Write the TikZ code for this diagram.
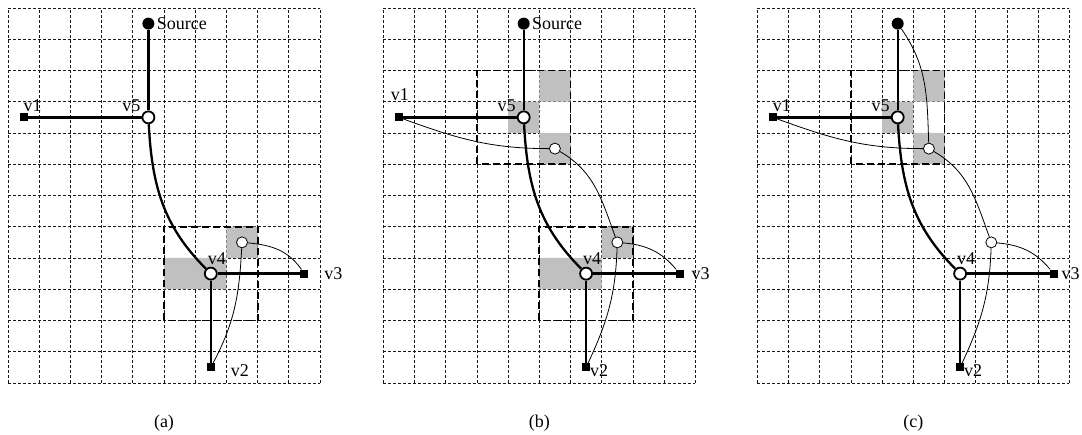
\documentclass[tikz,border=0pt]{standalone}
\usepackage{fontspec}
\setmainfont{Liberation Serif}
\pgfdeclarelayer{background}
\pgfsetlayers{background,main}
\definecolor{cellgray}{RGB}{192,192,192}
\tikzset{
  gridline/.style={line width=0.7pt, dash pattern=on 3pt off 2pt, black!90},
  window/.style={line width=1.8pt, dash pattern=on 7pt off 4pt},
  cellfill/.style={fill=cellgray},
  tree/.style={line width=2.3pt},
  route/.style={line width=0.8pt},
  steiner/.style={circle, draw, line width=1.8pt, fill=white, minimum size=12pt, inner sep=0pt},
  cand/.style={circle, draw, line width=0.8pt, fill=white, minimum size=11pt, inner sep=0pt},
  src/.style={circle, fill=black, minimum size=12pt, inner sep=0pt},
  term/.style={rectangle, fill=black, minimum size=8pt, inner sep=0pt},
  lbl/.style={font=\fontsize{18}{20}\selectfont, inner sep=0pt},
  panel/.style={x=31.2pt, y=31.25pt}
}
\begin{document}
\begin{tikzpicture}
\useasboundingbox (0,0) rectangle (1082pt,435pt);
% ---------------- panel (a)
\begin{scope}[xshift=8pt, yshift=52pt, panel]
 \begin{pgfonlayer}{background}
  \foreach \i in {0,...,10} \draw[gridline] (\i,0) -- (\i,12);
  \foreach \j in {0,...,12} \draw[gridline] (0,\j) -- (10,\j);
  \fill[cellfill] (7,4) rectangle (8,5) (5,3) rectangle (7,4);
  \draw[window] (5,2) rectangle (8,5);
 \end{pgfonlayer}
 \node[src] (aS) at (4.5,11.5) {};
 \node[steiner] (av5) at (4.5,8.5) {};
 \node[steiner] (av4) at (6.5,3.5) {};
 \node[term] (av1) at (0.5,8.5) {};
 \node[term] (av2) at (6.5,0.5) {};
 \node[term] (av3) at (9.5,3.5) {};
 \node[cand] (ac2) at (7.5,4.5) {};
 \begin{pgfonlayer}{background}
  \draw[tree] (aS) -- (av5);
  \draw[tree] (av1) -- (av5);
  \draw[tree] (av5) to[out=-87, in=135] (av4);
  \draw[tree] (av4) -- (av3);
  \draw[tree] (av4) -- (av2);
  \draw[route] (ac2) to[out=-5, in=125] (av3);
  \draw[route] (ac2) to[out=-93, in=62] (av2);
 \end{pgfonlayer}
 \node[lbl, anchor=west] (aSl) at ([xshift=2pt]aS.east) {Source};
 \node[lbl] (av1l) at ([shift={(9pt,12pt)}]av1) {v1};
 \node[lbl] (av5l) at ([shift={(-17pt,12pt)}]av5) {v5};
 \node[lbl] (av4l) at ([shift={(6pt,15pt)}]av4) {v4};
 \node[lbl] (av2l) at ([shift={(29pt,-3pt)}]av2) {v2};
 \node[lbl] (av3l) at ([shift={(29pt,0pt)}]av3) {v3};
\end{scope}
% ---------------- panel (b)
\begin{scope}[xshift=383.3pt, yshift=52pt, panel]
 \begin{pgfonlayer}{background}
  \foreach \i in {0,...,10} \draw[gridline] (\i,0) -- (\i,12);
  \foreach \j in {0,...,12} \draw[gridline] (0,\j) -- (10,\j);
  \fill[cellfill] (7,4) rectangle (8,5) (5,3) rectangle (7,4);
  \fill[cellfill] (5,9) rectangle (6,10) (4,8) rectangle (5,9) (5,7) rectangle (6,8);
  \draw[window] (5,2) rectangle (8,5);
  \draw[window] (3,7) rectangle (6,10);
 \end{pgfonlayer}
 \node[src] (bS) at (4.5,11.5) {};
 \node[steiner] (bv5) at (4.5,8.5) {};
 \node[steiner] (bv4) at (6.5,3.5) {};
 \node[term] (bv1) at (0.5,8.5) {};
 \node[term] (bv2) at (6.5,0.5) {};
 \node[term] (bv3) at (9.5,3.5) {};
 \node[cand] (bc1) at (5.5,7.5) {};
 \node[cand] (bc2) at (7.5,4.5) {};
 \begin{pgfonlayer}{background}
  \draw[tree] (bS) -- (bv5);
  \draw[tree] (bv1) -- (bv5);
  \draw[tree] (bv5) to[out=-87, in=135] (bv4);
  \draw[tree] (bv4) -- (bv3);
  \draw[tree] (bv4) -- (bv2);
  \draw[route] (bv1) to[out=-20, in=180] (bc1);
  \draw[route] (bc1) to[out=-30, in=110] (bc2);
  \draw[route] (bc2) to[out=-5, in=130] (bv3);
  \draw[route] (bc2) to[out=-92, in=65] (bv2);
 \end{pgfonlayer}
 \node[lbl, anchor=west] (bSl) at ([xshift=2pt]bS.east) {Source};
 \node[lbl] (bv1l) at ([shift={(1pt,23pt)}]bv1) {v1};
 \node[lbl] (bv5l) at ([shift={(-17pt,12pt)}]bv5) {v5};
 \node[lbl] (bv4l) at ([shift={(6pt,15pt)}]bv4) {v4};
 \node[lbl] (bv2l) at ([shift={(13pt,-3pt)}]bv2) {v2};
 \node[lbl] (bv3l) at ([shift={(21pt,0pt)}]bv3) {v3};
\end{scope}
% ---------------- panel (c)
\begin{scope}[xshift=757.3pt, yshift=52pt, panel]
 \begin{pgfonlayer}{background}
  \foreach \i in {0,...,10} \draw[gridline] (\i,0) -- (\i,12);
  \foreach \j in {0,...,12} \draw[gridline] (0,\j) -- (10,\j);
  \fill[cellfill] (5,9) rectangle (6,10) (4,8) rectangle (5,9) (5,7) rectangle (6,8);
  \draw[window] (3,7) rectangle (6,10);
 \end{pgfonlayer}
 \node[src] (cS) at (4.5,11.5) {};
 \node[steiner] (cv5) at (4.5,8.5) {};
 \node[steiner] (cv4) at (6.5,3.5) {};
 \node[term] (cv1) at (0.5,8.5) {};
 \node[term] (cv2) at (6.5,0.5) {};
 \node[term] (cv3) at (9.5,3.5) {};
 \node[cand] (cc1) at (5.5,7.5) {};
 \node[cand] (cc2) at (7.5,4.5) {};
 \begin{pgfonlayer}{background}
  \draw[tree] (cS) -- (cv5);
  \draw[tree] (cv1) -- (cv5);
  \draw[tree] (cv5) to[out=-87, in=135] (cv4);
  \draw[tree] (cv4) -- (cv3);
  \draw[tree] (cv4) -- (cv2);
  \draw[route] (cS) to[out=-55, in=92] (cc1);
  \draw[route] (cv1) to[out=-20, in=180] (cc1);
  \draw[route] (cc1) to[out=-30, in=110] (cc2);
  \draw[route] (cc2) to[out=-5, in=130] (cv3);
  \draw[route] (cc2) to[out=-92, in=65] (cv2);
 \end{pgfonlayer}
 \node[lbl] (cv1l) at ([shift={(9pt,12pt)}]cv1) {v1};
 \node[lbl] (cv5l) at ([shift={(-17pt,12pt)}]cv5) {v5};
 \node[lbl] (cv4l) at ([shift={(6pt,15pt)}]cv4) {v4};
 \node[lbl] (cv2l) at ([shift={(13pt,-3pt)}]cv2) {v2};
 \node[lbl] (cv3l) at ([shift={(17pt,0pt)}]cv3) {v3};
\end{scope}
% ---------------- captions
\node[lbl] (capa) at (164pt,12pt) {(a)};
\node[lbl] (capb) at (539.3pt,12pt) {(b)};
\node[lbl] (capc) at (913.3pt,12pt) {(c)};
\end{tikzpicture}
\end{document}
